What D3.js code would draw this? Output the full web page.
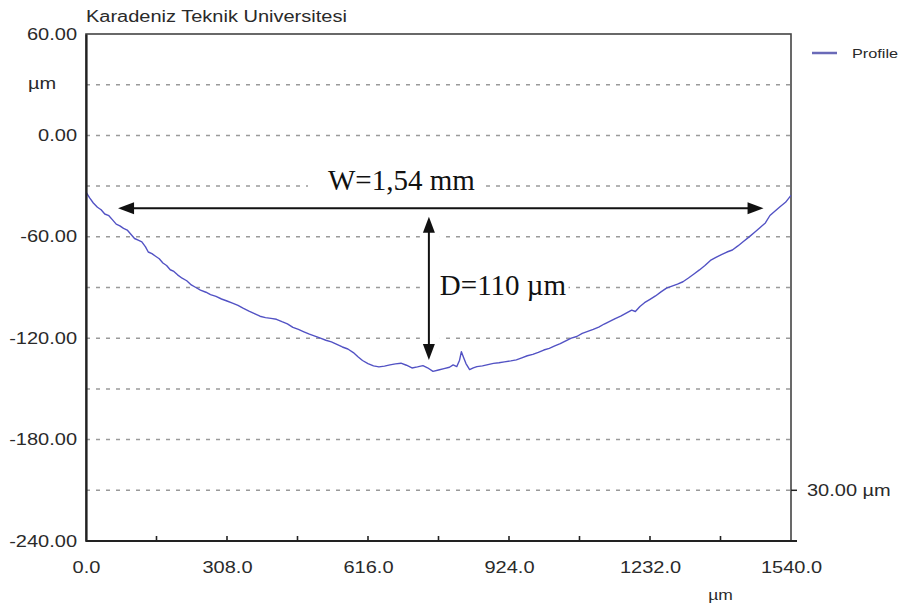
<!DOCTYPE html>
<html>
<head>
<meta charset="utf-8">
<script src="https://cdn.jsdelivr.net/npm/d3@7"></script>
<style>
  body { margin: 0; background: #fff; }
  svg { display: block; }
</style>
</head>
<body>
<svg id="chart" width="904" height="606"></svg>
<script>
// profile: position (µm) and height (µm)
const profileX = [0, 8, 16, 25, 33, 41, 50, 58, 66, 74, 82, 90, 98, 106, 114, 122, 130, 136, 144, 152,
  160, 168, 176, 184, 192, 200, 210, 220, 230, 240, 250, 262, 272, 284, 296, 308, 320, 332, 344, 356,
  368, 380, 392, 404, 416, 428, 440, 452, 464, 476, 488, 500, 512, 524, 536, 548, 560, 572, 584, 594,
  604, 616, 628, 640, 652, 664, 676, 688, 700, 712, 724, 736, 746, 758, 770, 782, 794, 802, 810, 816,
  820, 825, 830, 838, 846, 854, 866, 878, 890, 902, 914, 928, 940, 952, 964, 976, 988, 1000, 1012, 1024,
  1036, 1048, 1060, 1072, 1084, 1096, 1108, 1120, 1132, 1144, 1156, 1168, 1180, 1192, 1200, 1210, 1220, 1232, 1244, 1256,
  1268, 1280, 1292, 1304, 1316, 1328, 1340, 1352, 1364, 1376, 1388, 1400, 1412, 1424, 1436, 1448, 1460, 1472, 1484, 1494,
  1504, 1516, 1528, 1540];
const profileY = [-33.5, -37, -40, -42.5, -44, -46.5, -47.5, -50, -52.5, -53.5, -55, -56, -58.5, -61, -62, -63, -66, -69, -70, -71.5,
  -73, -75.5, -77, -79.5, -80.5, -82.5, -84.5, -86, -88.5, -90, -91.5, -92.8, -94.2, -95.3, -96.8, -98, -99.2, -100.6, -102.4, -104,
  -105.5, -107, -107.8, -108.3, -108.8, -110.2, -111.5, -113.6, -114.8, -116.2, -117.6, -118.8, -120, -121.2, -122.2, -123.6, -125.2, -126.4, -128.5, -131,
  -133.2, -135, -136.4, -137, -136.5, -135.8, -135.2, -134.8, -136, -137.6, -137, -136.2, -137.5, -139.6, -138.8, -138, -137.2, -135.8, -136.8, -133,
  -128, -131.5, -135, -138.6, -137.6, -136.8, -136.4, -135.6, -134.9, -134.5, -134, -133.4, -132.8, -131.6, -130.4, -129.6, -128.4, -127, -126, -124.6,
  -123.2, -121.6, -120, -119, -117.2, -116, -114.8, -113.4, -111.6, -110, -108.4, -107, -105.2, -103.4, -104.2, -101.2, -99, -97, -95, -92.6,
  -90.4, -89.2, -88, -86.6, -84.4, -82, -79.6, -77, -74, -72.2, -70.6, -69, -67.8, -65.4, -62.8, -60.2, -57.4, -54.6, -51.8, -47.4,
  -45, -42.2, -39.6, -35.5];

const yTicks = [60, 0, -60, -120, -180, -240];
const yGrid = [30, 0, -30, -60, -90, -120, -150, -180, -210];
const xTicks = [0, 308, 616, 924, 1232, 1540];
const xMinor = [154, 462, 770, 1078, 1386];

// annotations, in data units
const widthArrow = {x1: 70, x2: 1480, y: -43.1};
const depthArrow = {x: 749, y1: -48.1, y2: -132.9};
const widthLabel = {x: 689, y: -32.3, text: "W=1,54 mm"};
const depthLabel = {x: 773, y: -94.4, text: "D=110 µm"};

const svg = d3.select("#chart"),
    margin = {top: 34, right: 113, bottom: 65, left: 86},
    width = 904 - margin.left - margin.right,
    height = 606 - margin.top - margin.bottom;

const sans = "'Liberation Sans', Arial, sans-serif",
    serif = "'Liberation Serif', 'Times New Roman', serif",
    k = 1.25; // the original labels are drawn a bit wide

const x = d3.scaleLinear().domain([0, 1540]).range([0, width]);
const y = d3.scaleLinear().domain([-240, 60]).range([height, 0]);

const g = svg.append("g")
    .attr("transform", "translate(" + margin.left + "," + margin.top + ")");

// dashed grid
g.append("g")
  .selectAll("line")
  .data(yGrid)
  .enter().append("line")
    .attr("x1", 0)
    .attr("x2", width)
    .attr("y1", d => y(d))
    .attr("y2", d => y(d))
    .attr("stroke", "#9a9a9a")
    .attr("stroke-width", 1.5)
    .attr("stroke-dasharray", "4,6");

// frame (top / right)
g.append("rect")
    .attr("width", width)
    .attr("height", height)
    .attr("fill", "none")
    .attr("stroke", "#444")
    .attr("stroke-width", 1.6);

// profile
const line = d3.line()
    .x(d => x(d[0]))
    .y(d => y(d[1]));

g.append("path")
    .datum(profileX.map((v, i) => [v, profileY[i]]))
    .attr("fill", "none")
    .attr("stroke", "#5252c4")
    .attr("stroke-width", 1.4)
    .attr("stroke-linejoin", "round")
    .attr("d", line);

// y axis
const yAxis = g.append("g")
    .call(d3.axisLeft(y).tickValues(yTicks).tickSize(0).tickFormat(d => d.toFixed(2)));
yAxis.select(".domain").attr("stroke", "#222").attr("stroke-width", 2.2);
yAxis.selectAll("text")
    .attr("x", -9 / k)
    .attr("transform", "scale(" + k + ",1)")
    .style("font-family", sans)
    .style("font-size", "16px")
    .attr("fill", "#2a2a2a");

// x axis
const xAxis = g.append("g")
    .attr("transform", "translate(0," + height + ")")
    .call(d3.axisBottom(x).tickValues(xTicks).tickSize(0).tickPadding(21).tickFormat(d => d.toFixed(1)));
xAxis.select(".domain").attr("stroke", "#222").attr("stroke-width", 2.2)
    .attr("d", "M0,0H" + (width + 6));
xAxis.selectAll("text")
    .attr("transform", "scale(" + k + ",1)")
    .style("font-family", sans)
    .style("font-size", "16px")
    .attr("fill", "#2a2a2a");

// small inner ticks along the bottom
g.append("g")
  .selectAll("line")
  .data(xMinor.concat(xTicks.slice(1, -1)))
  .enter().append("line")
    .attr("x1", d => x(d))
    .attr("x2", d => x(d))
    .attr("y1", height)
    .attr("y2", height - 5)
    .attr("stroke", "#222")
    .attr("stroke-width", 1.6);

// right side scale marker
g.append("line")
    .attr("x1", width)
    .attr("x2", width + 6)
    .attr("y1", y(-210))
    .attr("y2", y(-210))
    .attr("stroke", "#222")
    .attr("stroke-width", 1.5);

function wideText(px, py, txt, size) {
  return svg.append("text")
    .attr("x", px / k)
    .attr("y", py)
    .attr("transform", "scale(" + k + ",1)")
    .style("font-family", sans)
    .style("font-size", size + "px")
    .attr("fill", "#2a2a2a")
    .text(txt);
}

wideText(margin.left, 22, "Karadeniz Teknik Universitesi", 16);
wideText(28, margin.top + y(30) + 4, "µm", 16);
wideText(margin.left + width + 16, margin.top + y(-210) + 6, "30.00 µm", 16);
wideText(margin.left + x(1386), 600, "µm", 14).attr("text-anchor", "middle");

// legend
svg.append("line")
    .attr("x1", 812).attr("x2", 837)
    .attr("y1", 53).attr("y2", 53)
    .attr("stroke", "#6a6ab8")
    .attr("stroke-width", 2.5);
wideText(852, 58, "Profile", 13);

// annotations
const ann = g.append("g");

const wl = ann.append("text")
    .attr("x", x(widthLabel.x))
    .attr("y", y(widthLabel.y))
    .attr("text-anchor", "middle")
    .style("font-family", serif)
    .style("font-size", "29px")
    .attr("fill", "#111")
    .text(widthLabel.text);
const dl = ann.append("text")
    .attr("x", x(depthLabel.x))
    .attr("y", y(depthLabel.y))
    .style("font-family", serif)
    .style("font-size", "29px")
    .attr("fill", "#111")
    .text(depthLabel.text);

// white patches where labels and arrow sit over the grid
[wl, dl].forEach((t, i) => {
  const b = t.node().getBBox();
  ann.insert("rect", "text")
      .attr("x", b.x - (i ? 6 : 20))
      .attr("y", b.y + 4)
      .attr("width", b.width + (i ? 8 : 26))
      .attr("height", b.height - 6)
      .attr("fill", "#fff");
});

ann.insert("rect", "text")
    .attr("x", x(depthArrow.x) - 9)
    .attr("y", y(depthArrow.y1) - 2)
    .attr("width", 20)
    .attr("height", y(depthArrow.y2) - y(depthArrow.y1) - 14)
    .attr("fill", "#fff");

function arrow(x1, y1, x2, y2) {
  const ang = Math.atan2(y2 - y1, x2 - x1),
      len = 16, half = 6;
  const head = (tx, ty, a) => {
    const bx = tx - len * Math.cos(a), by = ty - len * Math.sin(a);
    return [[tx, ty],
      [bx + half * Math.sin(a), by - half * Math.cos(a)],
      [bx - half * Math.sin(a), by + half * Math.cos(a)]];
  };
  const heads = [head(x2, y2, ang), head(x1, y1, ang + Math.PI)];
  // white halo first
  ann.append("line")
      .attr("x1", x1).attr("y1", y1).attr("x2", x2).attr("y2", y2)
      .attr("stroke", "#fff").attr("stroke-width", 6);
  ann.selectAll(null).data(heads).enter().append("polygon")
      .attr("points", d => d.join(" "))
      .attr("fill", "#fff").attr("stroke", "#fff").attr("stroke-width", 9)
      .attr("stroke-linejoin", "round");
  ann.append("line")
      .attr("x1", x1 + 10 * Math.cos(ang)).attr("y1", y1 + 10 * Math.sin(ang))
      .attr("x2", x2 - 10 * Math.cos(ang)).attr("y2", y2 - 10 * Math.sin(ang))
      .attr("stroke", "#111").attr("stroke-width", 2);
  ann.selectAll(null).data(heads).enter().append("polygon")
      .attr("points", d => d.join(" "))
      .attr("fill", "#111");
}

arrow(x(widthArrow.x1), y(widthArrow.y), x(widthArrow.x2), y(widthArrow.y));
arrow(x(depthArrow.x), y(depthArrow.y1), x(depthArrow.x), y(depthArrow.y2));
</script>
</body>
</html>
